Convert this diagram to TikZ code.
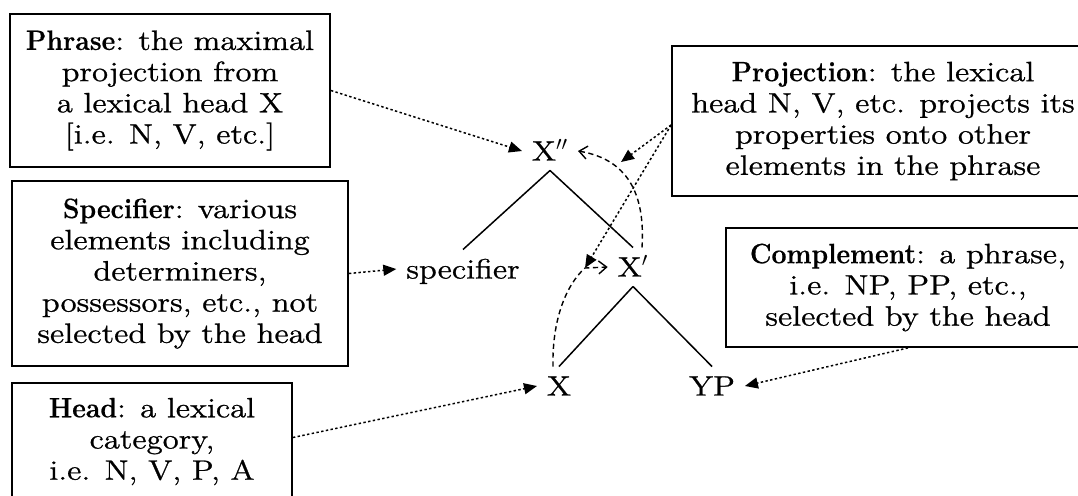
\documentclass[tikz,border=0pt]{standalone}
\usepackage{fontspec}
\setmainfont{lmroman12-regular.otf}[FakeStretch=1.17,FakeBold=0.9]
\newfontfamily\hdfont{lmroman12-bold.otf}[FakeStretch=0.95,FakeBold=0.5]
\newcommand{\hd}[1]{{\hdfont #1}}
\usetikzlibrary{arrows.meta,calc}
\begin{document}
\begin{tikzpicture}[x=0.5pt,y=-0.5pt,
  txt/.style={font=\fontsize{14pt}{15.6pt}\selectfont},
  box/.style={txt,draw,line width=0.9pt,align=center,inner sep=0pt},
  tree/.style={txt,inner sep=0pt,outer sep=5pt,text height=9.5pt,text depth=0pt},
  branch/.style={line width=0.75pt},
  dotarrow/.style={line width=0.75pt,dash pattern=on 1.2pt off 1.2pt,-{Triangle[length=6.5pt,width=5.5pt]}},
  dasharrow/.style={line width=0.7pt,dash pattern=on 2.6pt off 1.8pt,-{Straight Barb[length=4pt,width=6.5pt]}}]
\useasboundingbox (0,0) rectangle (1078,495);
% boxes
\node[box,minimum width=160pt,minimum height=76.5pt] (phrase) at (170,90.5)
  {\hd{Phrase}: the maximal\\projection from\\a lexical head X\\{[}i.e. N, V, etc.{]}};
\node[box,minimum width=168pt,minimum height=92.5pt] (specbox) at (180,273.5)
  {\hd{Specifier}: various\\elements including\\determiners,\\possessors, etc., not\\selected by the head};
\node[box,minimum width=140pt,minimum height=58.5pt] (head) at (152,441.5)
  {\hd{Head}: a lexical\\category,\\i.e. N, V, P, A};
\node[box,minimum width=211pt,minimum height=75pt] (proj) at (883,121)
  {\hd{Projection}: the lexical\\head N, V, etc. projects its\\properties onto other\\elements in the phrase};
\node[box,minimum width=182pt,minimum height=59.5pt] (comp) at (908,287.5)
  {\hd{Complement}: a phrase,\\i.e. NP, PP, etc.,\\selected by the head};
% tree
\node[tree] (xpp) at (550,151) {X$''$};
\node[tree] (spec) at (463,269) {specifier};
\node[tree] (xp) at (633,267) {X$'$};
\node[tree] (x) at (559,386) {X};
\node[tree] (yp) at (712,386) {YP};
\draw[branch] (xpp.south) -- (spec.north);
\draw[branch] (xpp.south) -- (xp.north);
\draw[branch] (xp.south) -- (x.north);
\draw[branch] (xp.south) -- (yp.north);
% projection arrows
\coordinate (p1) at (621,162);
\coordinate (q) at (585,268);
\draw[dasharrow] ($(xp.north)+(9,0)$) .. controls (645,200) and (632,160) .. (xpp.east);
\draw[dasharrow] ($(x.north)+(-6,0)$) .. controls (552,320) and (566,285) .. (q) -- (xp.west);
\draw[dotarrow] ($(proj.west)+(0,4)$) -- (p1);
\draw[dotarrow] ($(proj.west)+(0,4)$) -- (q);
% box connectors
\draw[dotarrow] (phrase.east) -- (xpp.west);
\draw[dotarrow] (specbox.east) -- (spec.west);
\draw[dotarrow] ($(head.east)+(0,-4)$) -- (x.west);
\draw[dotarrow] (comp.south) -- (yp.east);
\end{tikzpicture}
\end{document}
